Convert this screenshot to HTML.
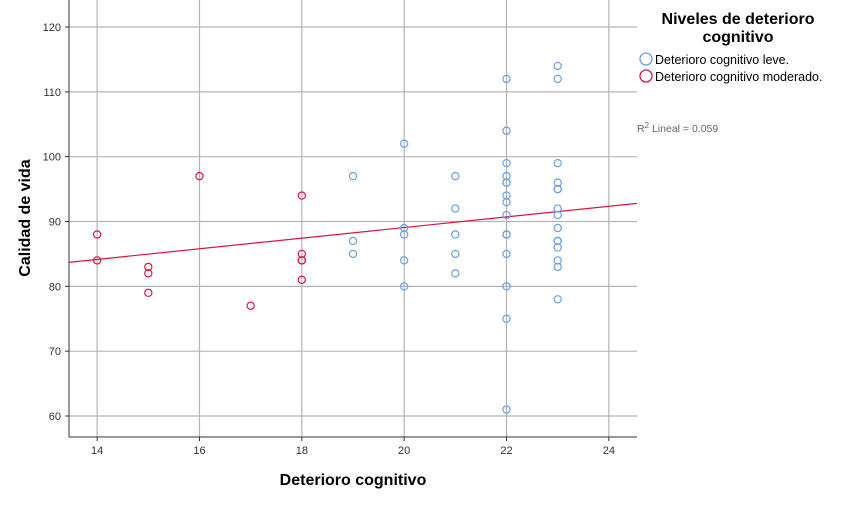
<!DOCTYPE html>
<html><head><meta charset="utf-8"><style>
body{margin:0;background:#fff;width:851px;height:501px;overflow:hidden;font-family:"Liberation Sans",sans-serif}
</style></head><body>
<svg id="chart" width="851" height="501" xmlns="http://www.w3.org/2000/svg" font-family="Liberation Sans, sans-serif">
<g id="grid"></g>
<g id="axes"></g>
<g id="pts"></g>
<text x="353" y="485" font-size="16" font-weight="bold" text-anchor="middle" fill="#000">Deterioro cognitivo</text>
<text transform="translate(30,218) rotate(-90)" font-size="16" font-weight="bold" text-anchor="middle" fill="#000">Calidad de vida</text>
<g>
<text x="738" y="24" font-size="16" font-weight="bold" text-anchor="middle">Niveles de deterioro</text>
<text x="738" y="42" font-size="16" font-weight="bold" text-anchor="middle">cognitivo</text>
<circle cx="646" cy="59" r="6" fill="none" stroke="#6a9ee8" stroke-width="1.3"/>
<text x="655" y="64" font-size="12.5">Deterioro cognitivo leve.</text>
<circle cx="646" cy="76" r="6" fill="none" stroke="#d8173f" stroke-width="1.3"/>
<text x="655" y="81" font-size="12.5">Deterioro cognitivo moderado.</text>
</g>
<text x="637" y="132" font-size="10.5" fill="#666">R<tspan dy="-4" font-size="8">2</tspan><tspan dy="4"> Lineal = 0.059</tspan></text>
</svg>
<script>
const xTicks=[14,16,18,20,22,24];
const yTicks=[60,70,80,90,100,110,120];
const redX=[14,14,15,15,15,16,17,18,18,18,18,18];
const redY=[88,84,83,82,79,97,77,94,85,84,84,81];
const blueX=[19,19,19,20,20,20,20,20,21,21,21,21,21,22,22,22,22,22,22,22,22,22,22,22,22,22,22,22,23,23,23,23,23,23,23,23,23,23,23,23,23,23,23];
const blueY=[97,87,85,102,89,88,84,80,97,92,88,85,82,112,104,99,97,96,96,94,93,91,88,88,85,80,75,61,114,112,99,96,95,95,92,91,89,87,87,86,84,83,78];
const fitX=[13.45,24.55];
const fitY=[83.7,92.8];
const X0=69,X1=637,Y0=0,Y1=437;
const xmin=13.45,xmax=24.55,ymin=56.76,ymax=124.17;
const sx=v=>X0+(v-xmin)/(xmax-xmin)*(X1-X0);
const sy=v=>Y1-(v-ymin)/(ymax-ymin)*(Y1-Y0);
const NS="http://www.w3.org/2000/svg";
function mk(t,a,p){const e=document.createElementNS(NS,t);for(const k in a)e.setAttribute(k,a[k]);p.appendChild(e);return e;}
const g=document.getElementById('grid'),ax=document.getElementById('axes'),pts=document.getElementById('pts');
xTicks.forEach(v=>{
 const l=mk('line',{x1:sx(v),x2:sx(v),y1:Y0,y2:Y1,stroke:'#b4b4b4','stroke-width':1.2},g);
 
 
 const t=mk('text',{x:sx(v),y:Y1+17,'font-size':11,'text-anchor':'middle',fill:'#333'},ax);t.textContent=v;
 
 
 mk('line',{x1:sx(v),x2:sx(v),y1:Y1,y2:Y1+4,stroke:'#333'},ax);
});
yTicks.forEach(v=>{
 const l=mk('line',{x1:X0,x2:X1,y1:sy(v),y2:sy(v),stroke:'#b4b4b4','stroke-width':1.2},g);
 
 
 const t=mk('text',{x:X0-8,y:sy(v)+4,'font-size':11,'text-anchor':'end',fill:'#333'},ax);t.textContent=v;
 
 
 mk('line',{x1:X0-4,x2:X0,y1:sy(v),y2:sy(v),stroke:'#333'},ax);
});
mk('line',{x1:X0,x2:X0,y1:Y0,y2:Y1,stroke:'#333'},ax);
mk('line',{x1:X0,x2:X1,y1:Y1,y2:Y1,stroke:'#333'},ax);
const fl=mk('line',{x1:sx(fitX[0]),y1:sy(fitY[0]),x2:sx(fitX[1]),y2:sy(fitY[1]),stroke:'#d8173f','stroke-width':1.2},pts);


blueX.forEach((x,i)=>{const c=mk('circle',{cx:sx(x),cy:sy(blueY[i]),r:3.6,fill:'none',stroke:'#6a9ee8','stroke-width':1.2},pts);
 
 });
redX.forEach((x,i)=>{const c=mk('circle',{cx:sx(x),cy:sy(redY[i]),r:3.6,fill:'none',stroke:'#d8173f','stroke-width':1.2},pts);
 
 });
</script>
</body></html>
